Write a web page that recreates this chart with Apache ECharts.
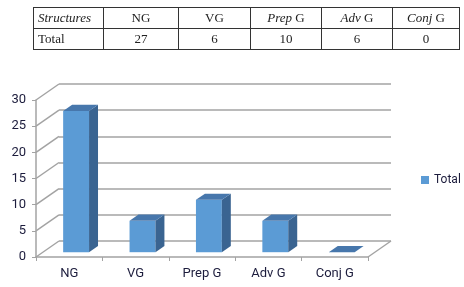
<!DOCTYPE html>
<html>
<head>
<meta charset="utf-8">
<script src="https://cdn.jsdelivr.net/npm/echarts@6/dist/echarts.min.js"></script>
<style>
  html, body { margin: 0; padding: 0; background: #fff; }
  #chart { position: absolute; left: 0; top: 0; width: 464px; height: 287px; }
  #table {
    position: absolute; left: 33px; top: 7px; width: 416px;
    border-collapse: collapse; table-layout: fixed;
    font-family: 'Liberation Serif', serif; font-size: 13px; color: #222;
  }
  #table td { border: 1px solid #333; height: 20px; padding: 0; text-align: center; }
  #table td.first { text-align: left; padding-left: 4px; }
  #table i { font-style: italic; }
</style>
</head>
<body>
<div id="chart"></div>
<table id="table"></table>
<script>
const categories = ['NG', 'VG', 'Prep G', 'Adv G', 'Conj G']
const tableHeads = ['<i>Structures</i>', 'NG', 'VG', '<i>Prep</i> G', '<i>Adv</i> G', '<i>Conj</i> G']
const totals = [27, 6, 10, 6, 0]
const yTicks = [0, 5, 10, 15, 20, 25, 30]
const seriesName = 'Total'

// table above the chart
const colWidths = [65, 74, 71, 70, 70, 66]
const table = document.getElementById('table')
const headRow = table.insertRow()
tableHeads.forEach((h, i) => {
  const td = headRow.insertCell()
  td.innerHTML = h
  td.style.width = colWidths[i] + 'px'
  if (i === 0) td.className = 'first'
})
const valRow = table.insertRow()
const firstCell = valRow.insertCell()
firstCell.className = 'first'
firstCell.textContent = seriesName
totals.forEach(v => {
  valRow.insertCell().textContent = v
})

// fake 3d depth offset
const DX = 23
const DY = -16
const F1 = 0.3
const F2 = 0.69
const labelFont = 'Roboto, sans-serif'
const labelColor = '#1c1c3c'
const gridColor = '#a3a3a3'

const chart = echarts.init(document.getElementById('chart'))

const option = {
  animation: false,
  grid: [
    { left: 36, right: 96, top: 100, bottom: 30 },
    { left: 59, right: 73, top: 84, bottom: 46 }
  ],
  legend: {
    data: [seriesName],
    left: 421,
    top: 174,
    icon: 'rect',
    itemWidth: 8,
    itemHeight: 8,
    padding: 0,
    textStyle: { fontFamily: labelFont, fontSize: 12, color: labelColor }
  },
  xAxis: [
    {
      type: 'category',
      gridIndex: 0,
      data: categories,
      boundaryGap: true,
      axisLine: { lineStyle: { color: gridColor, width: 1.5 } },
      axisTick: { show: true, length: 4, lineStyle: { color: gridColor } },
      axisLabel: { fontFamily: labelFont, fontSize: 13, color: labelColor, margin: 10 }
    },
    {
      type: 'category',
      gridIndex: 1,
      data: categories,
      show: false
    }
  ],
  yAxis: [
    {
      type: 'value',
      gridIndex: 0,
      min: 0,
      max: 30,
      interval: 5,
      axisLine: { show: true, lineStyle: { color: gridColor, width: 1.5 } },
      axisTick: { show: true, length: 4, lineStyle: { color: gridColor } },
      splitLine: { show: false },
      axisLabel: { fontFamily: labelFont, fontSize: 13, color: labelColor, margin: 10 }
    },
    {
      type: 'value',
      gridIndex: 1,
      min: 0,
      max: 30,
      interval: 5,
      axisLine: { show: false },
      axisTick: { show: false },
      axisLabel: { show: false },
      splitLine: { show: true, lineStyle: { color: gridColor, width: 1.5 } }
    }
  ],
  series: [
    {
      // side wall and floor edges
      type: 'custom',
      xAxisIndex: 0,
      yAxisIndex: 0,
      silent: true,
      data: yTicks.map(v => [0, v]),
      renderItem: function (params, api) {
        const cs = params.coordSys
        const y = api.coord([0, api.value(1)])[1]
        const children = [{
          type: 'line',
          shape: { x1: cs.x, y1: y, x2: cs.x + DX, y2: y + DY },
          style: { stroke: gridColor, lineWidth: 1.5 }
        }]
        if (api.value(1) === 0) {
          children.push({
            type: 'line',
            shape: { x1: cs.x + cs.width, y1: y, x2: cs.x + cs.width + DX, y2: y + DY },
            style: { stroke: gridColor, lineWidth: 1.5 }
          })
        }
        return { type: 'group', children: children }
      }
    },
    {
      name: seriesName,
      type: 'custom',
      xAxisIndex: 0,
      yAxisIndex: 0,
      itemStyle: { color: '#5b9bd5' },
      data: totals.map((v, i) => [i, v]),
      renderItem: function (params, api) {
        const top = api.coord([api.value(0), api.value(1)])
        const base = api.coord([api.value(0), 0])
        const hw = api.size([1, 0])[0] * 0.39 / 2
        const x0 = top[0] - hw + F1 * DX
        const x1 = top[0] + hw + F1 * DX
        const yTop = top[1] + F1 * DY
        const yBot = base[1] + F1 * DY
        const ddx = (F2 - F1) * DX
        const ddy = (F2 - F1) * DY
        return {
          type: 'group',
          children: [
            {
              type: 'rect',
              shape: { x: x0, y: yTop, width: x1 - x0, height: yBot - yTop },
              style: { fill: '#5b9bd5' }
            },
            {
              type: 'polygon',
              shape: { points: [[x1, yTop], [x1 + ddx, yTop + ddy], [x1 + ddx, yBot + ddy], [x1, yBot]] },
              style: { fill: '#3a6491' }
            },
            {
              type: 'polygon',
              shape: { points: [[x0, yTop], [x1, yTop], [x1 + ddx, yTop + ddy], [x0 + ddx, yTop + ddy]] },
              style: { fill: '#4777ac' }
            }
          ]
        }
      }
    }
  ]
}

chart.setOption(option)
</script>
</body>
</html>
